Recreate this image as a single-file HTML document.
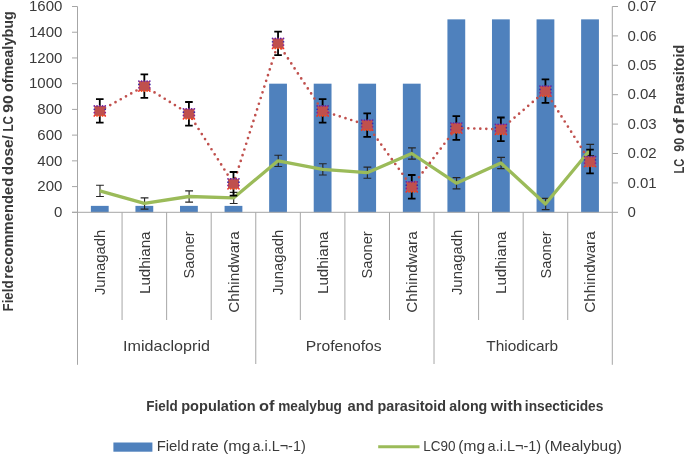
<!DOCTYPE html><html><head><meta charset="utf-8"><style>html,body{margin:0;padding:0;background:#fff;width:685px;height:455px;overflow:hidden}svg{display:block;will-change:transform}text{font-family:"Liberation Sans", sans-serif;fill:#3a3a3a}</style></head><body>
<svg width="685" height="455" viewBox="0 0 685 455">
<rect x="90.88" y="205.87" width="17.8" height="6.43" fill="#4f81bd"/>
<rect x="135.45" y="205.87" width="17.8" height="6.43" fill="#4f81bd"/>
<rect x="180.02" y="205.87" width="17.8" height="6.43" fill="#4f81bd"/>
<rect x="224.58" y="205.87" width="17.8" height="6.43" fill="#4f81bd"/>
<rect x="269.15" y="83.68" width="17.8" height="128.62" fill="#4f81bd"/>
<rect x="313.72" y="83.68" width="17.8" height="128.62" fill="#4f81bd"/>
<rect x="358.28" y="83.68" width="17.8" height="128.62" fill="#4f81bd"/>
<rect x="402.85" y="83.68" width="17.8" height="128.62" fill="#4f81bd"/>
<rect x="447.42" y="19.36" width="17.8" height="192.94" fill="#4f81bd"/>
<rect x="491.98" y="19.36" width="17.8" height="192.94" fill="#4f81bd"/>
<rect x="536.55" y="19.36" width="17.8" height="192.94" fill="#4f81bd"/>
<rect x="581.12" y="19.36" width="17.8" height="192.94" fill="#4f81bd"/>
<g stroke="#a6a6a6" stroke-width="1" fill="none">
<path d="M77.5 6.5 V364.8"/>
<path d="M612.3 6.5 V364.8"/>
<path d="M72 6.50 H77.5"/>
<path d="M72 32.23 H77.5"/>
<path d="M72 57.95 H77.5"/>
<path d="M72 83.68 H77.5"/>
<path d="M72 109.40 H77.5"/>
<path d="M72 135.12 H77.5"/>
<path d="M72 160.85 H77.5"/>
<path d="M72 186.58 H77.5"/>
<path d="M72 212.30 H77.5"/>
<path d="M612.3 6.50 H618"/>
<path d="M612.3 35.90 H618"/>
<path d="M612.3 65.30 H618"/>
<path d="M612.3 94.70 H618"/>
<path d="M612.3 124.10 H618"/>
<path d="M612.3 153.50 H618"/>
<path d="M612.3 182.90 H618"/>
<path d="M612.3 212.30 H618"/>
<path d="M72 212.30 H612.3"/>
<path d="M122.07 212.30 V320"/>
<path d="M166.63 212.30 V320"/>
<path d="M211.20 212.30 V320"/>
<path d="M255.77 212.30 V364"/>
<path d="M300.33 212.30 V320"/>
<path d="M344.90 212.30 V320"/>
<path d="M389.47 212.30 V320"/>
<path d="M434.03 212.30 V364"/>
<path d="M478.60 212.30 V320"/>
<path d="M523.17 212.30 V320"/>
<path d="M567.73 212.30 V320"/>
</g>
<g stroke="#262626" stroke-width="1.15" fill="none">
<path d="M99.98 185.25 V196.45 M96.08 185.25 H103.88 M96.08 196.45 H103.88"/>
<path d="M144.55 197.85 V209.05 M140.65 197.85 H148.45 M140.65 209.05 H148.45"/>
<path d="M189.12 190.90 V202.10 M185.22 190.90 H193.02 M185.22 202.10 H193.02"/>
<path d="M233.68 192.30 V203.50 M229.78 192.30 H237.58 M229.78 203.50 H237.58"/>
<path d="M278.25 155.25 V166.45 M274.35 155.25 H282.15 M274.35 166.45 H282.15"/>
<path d="M322.82 163.75 V174.95 M318.92 163.75 H326.72 M318.92 174.95 H326.72"/>
<path d="M367.38 167.05 V178.25 M363.48 167.05 H371.28 M363.48 178.25 H371.28"/>
<path d="M411.95 147.90 V159.10 M408.05 147.90 H415.85 M408.05 159.10 H415.85"/>
<path d="M456.52 177.60 V188.80 M452.62 177.60 H460.42 M452.62 188.80 H460.42"/>
<path d="M501.08 157.40 V168.60 M497.18 157.40 H504.98 M497.18 168.60 H504.98"/>
<path d="M545.65 198.35 V209.55 M541.75 198.35 H549.55 M541.75 209.55 H549.55"/>
<path d="M590.22 144.40 V155.60 M586.32 144.40 H594.12 M586.32 155.60 H594.12"/>
</g>
<polyline fill="none" stroke="#9bbb59" stroke-width="3.3" stroke-linejoin="round" points="99.78,190.85 144.35,203.45 188.92,196.50 233.48,197.90 278.05,160.85 322.62,169.35 367.18,172.65 411.75,153.50 456.32,183.20 500.88,163.00 545.45,203.95 590.02,150.00"/>
<g fill="none" stroke="#c0504d" stroke-width="2.7" stroke-linecap="round" stroke-dasharray="0 6">
<path d="M99.78 110.90 L144.35 86.10"/>
<path d="M144.35 86.10 L188.92 113.80"/>
<path d="M188.92 113.80 L233.48 183.80"/>
<path d="M233.48 183.80 L278.05 43.40"/>
<path d="M278.05 43.40 L322.62 110.90"/>
<path d="M322.62 110.90 L367.18 125.10"/>
<path d="M367.18 125.10 L411.75 186.80"/>
<path d="M411.75 186.80 L456.32 128.00"/>
<path d="M456.32 128.00 L500.88 129.30"/>
<path d="M500.88 129.30 L545.45 91.10"/>
<path d="M545.45 91.10 L590.02 161.50"/>
</g>
<g stroke="#000" stroke-width="1.8" fill="none">
<path d="M99.78 99.10 V122.70 M95.98 99.10 H103.58 M95.98 122.70 H103.58"/>
<path d="M144.35 74.30 V97.90 M140.55 74.30 H148.15 M140.55 97.90 H148.15"/>
<path d="M188.92 102.00 V125.60 M185.12 102.00 H192.72 M185.12 125.60 H192.72"/>
<path d="M233.48 172.00 V195.60 M229.68 172.00 H237.28 M229.68 195.60 H237.28"/>
<path d="M278.05 31.60 V55.20 M274.25 31.60 H281.85 M274.25 55.20 H281.85"/>
<path d="M322.62 99.10 V122.70 M318.82 99.10 H326.42 M318.82 122.70 H326.42"/>
<path d="M367.18 113.30 V136.90 M363.38 113.30 H370.98 M363.38 136.90 H370.98"/>
<path d="M411.75 175.00 V198.60 M407.95 175.00 H415.55 M407.95 198.60 H415.55"/>
<path d="M456.32 116.20 V139.80 M452.52 116.20 H460.12 M452.52 139.80 H460.12"/>
<path d="M500.88 117.50 V141.10 M497.08 117.50 H504.68 M497.08 141.10 H504.68"/>
<path d="M545.45 79.30 V102.90 M541.65 79.30 H549.25 M541.65 102.90 H549.25"/>
<path d="M590.02 149.70 V173.30 M586.22 149.70 H593.82 M586.22 173.30 H593.82"/>
</g>
<defs><linearGradient id="mg" x1="0" y1="0" x2="0" y2="1"><stop offset="0" stop-color="#6a22a0"/><stop offset="0.4" stop-color="#3828b0"/><stop offset="0.7" stop-color="#8a2090"/><stop offset="0.9" stop-color="#ff2018"/><stop offset="1" stop-color="#ff5a20"/></linearGradient></defs>
<rect x="94.28" y="105.90" width="11" height="10" fill="#c0504d"/>
<circle cx="94.28" cy="105.90" r="0.85" fill="#6b1fa5"/>
<circle cx="94.28" cy="115.90" r="0.85" fill="#ff2a1a"/>
<circle cx="97.03" cy="105.90" r="0.85" fill="#6b1fa5"/>
<circle cx="97.03" cy="115.90" r="0.85" fill="#ff4a12"/>
<circle cx="99.78" cy="105.90" r="0.85" fill="#6b1fa5"/>
<circle cx="99.78" cy="115.90" r="0.85" fill="#ff4a12"/>
<circle cx="102.53" cy="105.90" r="0.85" fill="#6b1fa5"/>
<circle cx="102.53" cy="115.90" r="0.85" fill="#ff4a12"/>
<circle cx="105.28" cy="105.90" r="0.85" fill="#6b1fa5"/>
<circle cx="105.28" cy="115.90" r="0.85" fill="#ff2a1a"/>
<circle cx="94.28" cy="109.23" r="0.85" fill="#3b2aa8"/>
<circle cx="94.28" cy="112.57" r="0.85" fill="#8a2090"/>
<circle cx="105.28" cy="109.23" r="0.85" fill="#3b2aa8"/>
<circle cx="105.28" cy="112.57" r="0.85" fill="#8a2090"/>
<rect x="138.85" y="81.10" width="11" height="10" fill="#c0504d"/>
<circle cx="138.85" cy="81.10" r="0.85" fill="#6b1fa5"/>
<circle cx="138.85" cy="91.10" r="0.85" fill="#ff2a1a"/>
<circle cx="141.60" cy="81.10" r="0.85" fill="#6b1fa5"/>
<circle cx="141.60" cy="91.10" r="0.85" fill="#ff4a12"/>
<circle cx="144.35" cy="81.10" r="0.85" fill="#6b1fa5"/>
<circle cx="144.35" cy="91.10" r="0.85" fill="#ff4a12"/>
<circle cx="147.10" cy="81.10" r="0.85" fill="#6b1fa5"/>
<circle cx="147.10" cy="91.10" r="0.85" fill="#ff4a12"/>
<circle cx="149.85" cy="81.10" r="0.85" fill="#6b1fa5"/>
<circle cx="149.85" cy="91.10" r="0.85" fill="#ff2a1a"/>
<circle cx="138.85" cy="84.43" r="0.85" fill="#3b2aa8"/>
<circle cx="138.85" cy="87.77" r="0.85" fill="#8a2090"/>
<circle cx="149.85" cy="84.43" r="0.85" fill="#3b2aa8"/>
<circle cx="149.85" cy="87.77" r="0.85" fill="#8a2090"/>
<rect x="183.42" y="108.80" width="11" height="10" fill="#c0504d"/>
<circle cx="183.42" cy="108.80" r="0.85" fill="#6b1fa5"/>
<circle cx="183.42" cy="118.80" r="0.85" fill="#ff2a1a"/>
<circle cx="186.17" cy="108.80" r="0.85" fill="#6b1fa5"/>
<circle cx="186.17" cy="118.80" r="0.85" fill="#ff4a12"/>
<circle cx="188.92" cy="108.80" r="0.85" fill="#6b1fa5"/>
<circle cx="188.92" cy="118.80" r="0.85" fill="#ff4a12"/>
<circle cx="191.67" cy="108.80" r="0.85" fill="#6b1fa5"/>
<circle cx="191.67" cy="118.80" r="0.85" fill="#ff4a12"/>
<circle cx="194.42" cy="108.80" r="0.85" fill="#6b1fa5"/>
<circle cx="194.42" cy="118.80" r="0.85" fill="#ff2a1a"/>
<circle cx="183.42" cy="112.13" r="0.85" fill="#3b2aa8"/>
<circle cx="183.42" cy="115.47" r="0.85" fill="#8a2090"/>
<circle cx="194.42" cy="112.13" r="0.85" fill="#3b2aa8"/>
<circle cx="194.42" cy="115.47" r="0.85" fill="#8a2090"/>
<rect x="227.98" y="178.80" width="11" height="10" fill="#c0504d"/>
<circle cx="227.98" cy="178.80" r="0.85" fill="#6b1fa5"/>
<circle cx="227.98" cy="188.80" r="0.85" fill="#ff2a1a"/>
<circle cx="230.73" cy="178.80" r="0.85" fill="#6b1fa5"/>
<circle cx="230.73" cy="188.80" r="0.85" fill="#ff4a12"/>
<circle cx="233.48" cy="178.80" r="0.85" fill="#6b1fa5"/>
<circle cx="233.48" cy="188.80" r="0.85" fill="#ff4a12"/>
<circle cx="236.23" cy="178.80" r="0.85" fill="#6b1fa5"/>
<circle cx="236.23" cy="188.80" r="0.85" fill="#ff4a12"/>
<circle cx="238.98" cy="178.80" r="0.85" fill="#6b1fa5"/>
<circle cx="238.98" cy="188.80" r="0.85" fill="#ff2a1a"/>
<circle cx="227.98" cy="182.13" r="0.85" fill="#3b2aa8"/>
<circle cx="227.98" cy="185.47" r="0.85" fill="#8a2090"/>
<circle cx="238.98" cy="182.13" r="0.85" fill="#3b2aa8"/>
<circle cx="238.98" cy="185.47" r="0.85" fill="#8a2090"/>
<rect x="272.55" y="38.40" width="11" height="10" fill="#c0504d"/>
<circle cx="272.55" cy="38.40" r="0.85" fill="#6b1fa5"/>
<circle cx="272.55" cy="48.40" r="0.85" fill="#ff2a1a"/>
<circle cx="275.30" cy="38.40" r="0.85" fill="#6b1fa5"/>
<circle cx="275.30" cy="48.40" r="0.85" fill="#ff4a12"/>
<circle cx="278.05" cy="38.40" r="0.85" fill="#6b1fa5"/>
<circle cx="278.05" cy="48.40" r="0.85" fill="#ff4a12"/>
<circle cx="280.80" cy="38.40" r="0.85" fill="#6b1fa5"/>
<circle cx="280.80" cy="48.40" r="0.85" fill="#ff4a12"/>
<circle cx="283.55" cy="38.40" r="0.85" fill="#6b1fa5"/>
<circle cx="283.55" cy="48.40" r="0.85" fill="#ff2a1a"/>
<circle cx="272.55" cy="41.73" r="0.85" fill="#3b2aa8"/>
<circle cx="272.55" cy="45.07" r="0.85" fill="#8a2090"/>
<circle cx="283.55" cy="41.73" r="0.85" fill="#3b2aa8"/>
<circle cx="283.55" cy="45.07" r="0.85" fill="#8a2090"/>
<rect x="317.12" y="105.90" width="11" height="10" fill="#c0504d"/>
<circle cx="317.12" cy="105.90" r="0.85" fill="#6b1fa5"/>
<circle cx="317.12" cy="115.90" r="0.85" fill="#ff2a1a"/>
<circle cx="319.87" cy="105.90" r="0.85" fill="#6b1fa5"/>
<circle cx="319.87" cy="115.90" r="0.85" fill="#ff4a12"/>
<circle cx="322.62" cy="105.90" r="0.85" fill="#6b1fa5"/>
<circle cx="322.62" cy="115.90" r="0.85" fill="#ff4a12"/>
<circle cx="325.37" cy="105.90" r="0.85" fill="#6b1fa5"/>
<circle cx="325.37" cy="115.90" r="0.85" fill="#ff4a12"/>
<circle cx="328.12" cy="105.90" r="0.85" fill="#6b1fa5"/>
<circle cx="328.12" cy="115.90" r="0.85" fill="#ff2a1a"/>
<circle cx="317.12" cy="109.23" r="0.85" fill="#3b2aa8"/>
<circle cx="317.12" cy="112.57" r="0.85" fill="#8a2090"/>
<circle cx="328.12" cy="109.23" r="0.85" fill="#3b2aa8"/>
<circle cx="328.12" cy="112.57" r="0.85" fill="#8a2090"/>
<rect x="361.68" y="120.10" width="11" height="10" fill="#c0504d"/>
<circle cx="361.68" cy="120.10" r="0.85" fill="#6b1fa5"/>
<circle cx="361.68" cy="130.10" r="0.85" fill="#ff2a1a"/>
<circle cx="364.43" cy="120.10" r="0.85" fill="#6b1fa5"/>
<circle cx="364.43" cy="130.10" r="0.85" fill="#ff4a12"/>
<circle cx="367.18" cy="120.10" r="0.85" fill="#6b1fa5"/>
<circle cx="367.18" cy="130.10" r="0.85" fill="#ff4a12"/>
<circle cx="369.93" cy="120.10" r="0.85" fill="#6b1fa5"/>
<circle cx="369.93" cy="130.10" r="0.85" fill="#ff4a12"/>
<circle cx="372.68" cy="120.10" r="0.85" fill="#6b1fa5"/>
<circle cx="372.68" cy="130.10" r="0.85" fill="#ff2a1a"/>
<circle cx="361.68" cy="123.43" r="0.85" fill="#3b2aa8"/>
<circle cx="361.68" cy="126.77" r="0.85" fill="#8a2090"/>
<circle cx="372.68" cy="123.43" r="0.85" fill="#3b2aa8"/>
<circle cx="372.68" cy="126.77" r="0.85" fill="#8a2090"/>
<rect x="406.25" y="181.80" width="11" height="10" fill="#c0504d"/>
<circle cx="406.25" cy="181.80" r="0.85" fill="#6b1fa5"/>
<circle cx="406.25" cy="191.80" r="0.85" fill="#ff2a1a"/>
<circle cx="409.00" cy="181.80" r="0.85" fill="#6b1fa5"/>
<circle cx="409.00" cy="191.80" r="0.85" fill="#ff4a12"/>
<circle cx="411.75" cy="181.80" r="0.85" fill="#6b1fa5"/>
<circle cx="411.75" cy="191.80" r="0.85" fill="#ff4a12"/>
<circle cx="414.50" cy="181.80" r="0.85" fill="#6b1fa5"/>
<circle cx="414.50" cy="191.80" r="0.85" fill="#ff4a12"/>
<circle cx="417.25" cy="181.80" r="0.85" fill="#6b1fa5"/>
<circle cx="417.25" cy="191.80" r="0.85" fill="#ff2a1a"/>
<circle cx="406.25" cy="185.13" r="0.85" fill="#3b2aa8"/>
<circle cx="406.25" cy="188.47" r="0.85" fill="#8a2090"/>
<circle cx="417.25" cy="185.13" r="0.85" fill="#3b2aa8"/>
<circle cx="417.25" cy="188.47" r="0.85" fill="#8a2090"/>
<rect x="450.82" y="123.00" width="11" height="10" fill="#c0504d"/>
<circle cx="450.82" cy="123.00" r="0.85" fill="#6b1fa5"/>
<circle cx="450.82" cy="133.00" r="0.85" fill="#ff2a1a"/>
<circle cx="453.57" cy="123.00" r="0.85" fill="#6b1fa5"/>
<circle cx="453.57" cy="133.00" r="0.85" fill="#ff4a12"/>
<circle cx="456.32" cy="123.00" r="0.85" fill="#6b1fa5"/>
<circle cx="456.32" cy="133.00" r="0.85" fill="#ff4a12"/>
<circle cx="459.07" cy="123.00" r="0.85" fill="#6b1fa5"/>
<circle cx="459.07" cy="133.00" r="0.85" fill="#ff4a12"/>
<circle cx="461.82" cy="123.00" r="0.85" fill="#6b1fa5"/>
<circle cx="461.82" cy="133.00" r="0.85" fill="#ff2a1a"/>
<circle cx="450.82" cy="126.33" r="0.85" fill="#3b2aa8"/>
<circle cx="450.82" cy="129.67" r="0.85" fill="#8a2090"/>
<circle cx="461.82" cy="126.33" r="0.85" fill="#3b2aa8"/>
<circle cx="461.82" cy="129.67" r="0.85" fill="#8a2090"/>
<rect x="495.38" y="124.30" width="11" height="10" fill="#c0504d"/>
<circle cx="495.38" cy="124.30" r="0.85" fill="#6b1fa5"/>
<circle cx="495.38" cy="134.30" r="0.85" fill="#ff2a1a"/>
<circle cx="498.13" cy="124.30" r="0.85" fill="#6b1fa5"/>
<circle cx="498.13" cy="134.30" r="0.85" fill="#ff4a12"/>
<circle cx="500.88" cy="124.30" r="0.85" fill="#6b1fa5"/>
<circle cx="500.88" cy="134.30" r="0.85" fill="#ff4a12"/>
<circle cx="503.63" cy="124.30" r="0.85" fill="#6b1fa5"/>
<circle cx="503.63" cy="134.30" r="0.85" fill="#ff4a12"/>
<circle cx="506.38" cy="124.30" r="0.85" fill="#6b1fa5"/>
<circle cx="506.38" cy="134.30" r="0.85" fill="#ff2a1a"/>
<circle cx="495.38" cy="127.63" r="0.85" fill="#3b2aa8"/>
<circle cx="495.38" cy="130.97" r="0.85" fill="#8a2090"/>
<circle cx="506.38" cy="127.63" r="0.85" fill="#3b2aa8"/>
<circle cx="506.38" cy="130.97" r="0.85" fill="#8a2090"/>
<rect x="539.95" y="86.10" width="11" height="10" fill="#c0504d"/>
<circle cx="539.95" cy="86.10" r="0.85" fill="#6b1fa5"/>
<circle cx="539.95" cy="96.10" r="0.85" fill="#ff2a1a"/>
<circle cx="542.70" cy="86.10" r="0.85" fill="#6b1fa5"/>
<circle cx="542.70" cy="96.10" r="0.85" fill="#ff4a12"/>
<circle cx="545.45" cy="86.10" r="0.85" fill="#6b1fa5"/>
<circle cx="545.45" cy="96.10" r="0.85" fill="#ff4a12"/>
<circle cx="548.20" cy="86.10" r="0.85" fill="#6b1fa5"/>
<circle cx="548.20" cy="96.10" r="0.85" fill="#ff4a12"/>
<circle cx="550.95" cy="86.10" r="0.85" fill="#6b1fa5"/>
<circle cx="550.95" cy="96.10" r="0.85" fill="#ff2a1a"/>
<circle cx="539.95" cy="89.43" r="0.85" fill="#3b2aa8"/>
<circle cx="539.95" cy="92.77" r="0.85" fill="#8a2090"/>
<circle cx="550.95" cy="89.43" r="0.85" fill="#3b2aa8"/>
<circle cx="550.95" cy="92.77" r="0.85" fill="#8a2090"/>
<rect x="584.52" y="156.50" width="11" height="10" fill="#c0504d"/>
<circle cx="584.52" cy="156.50" r="0.85" fill="#6b1fa5"/>
<circle cx="584.52" cy="166.50" r="0.85" fill="#ff2a1a"/>
<circle cx="587.27" cy="156.50" r="0.85" fill="#6b1fa5"/>
<circle cx="587.27" cy="166.50" r="0.85" fill="#ff4a12"/>
<circle cx="590.02" cy="156.50" r="0.85" fill="#6b1fa5"/>
<circle cx="590.02" cy="166.50" r="0.85" fill="#ff4a12"/>
<circle cx="592.77" cy="156.50" r="0.85" fill="#6b1fa5"/>
<circle cx="592.77" cy="166.50" r="0.85" fill="#ff4a12"/>
<circle cx="595.52" cy="156.50" r="0.85" fill="#6b1fa5"/>
<circle cx="595.52" cy="166.50" r="0.85" fill="#ff2a1a"/>
<circle cx="584.52" cy="159.83" r="0.85" fill="#3b2aa8"/>
<circle cx="584.52" cy="163.17" r="0.85" fill="#8a2090"/>
<circle cx="595.52" cy="159.83" r="0.85" fill="#3b2aa8"/>
<circle cx="595.52" cy="163.17" r="0.85" fill="#8a2090"/>
<text x="62.4" y="11.30" font-size="15" text-anchor="end">1600</text>
<text x="62.4" y="37.02" font-size="15" text-anchor="end">1400</text>
<text x="62.4" y="62.75" font-size="15" text-anchor="end">1200</text>
<text x="62.4" y="88.48" font-size="15" text-anchor="end">1000</text>
<text x="62.4" y="114.20" font-size="15" text-anchor="end">800</text>
<text x="62.4" y="139.93" font-size="15" text-anchor="end">600</text>
<text x="62.4" y="165.65" font-size="15" text-anchor="end">400</text>
<text x="62.4" y="191.38" font-size="15" text-anchor="end">200</text>
<text x="62.4" y="217.10" font-size="15" text-anchor="end">0</text>
<text x="627.5" y="11.10" font-size="15">0.07</text>
<text x="627.5" y="40.50" font-size="15">0.06</text>
<text x="627.5" y="69.90" font-size="15">0.05</text>
<text x="627.5" y="99.30" font-size="15">0.04</text>
<text x="627.5" y="128.70" font-size="15">0.03</text>
<text x="627.5" y="158.10" font-size="15">0.02</text>
<text x="627.5" y="187.50" font-size="15">0.01</text>
<text x="627.5" y="216.90" font-size="15">0</text>
<text transform="translate(105.08,294.80) rotate(-90)" x="-0.25" y="0" font-size="15" textLength="65.24" lengthAdjust="spacingAndGlyphs">Junagadh</text>
<text transform="translate(149.65,292.80) rotate(-90)" x="-1.27" y="0" font-size="15" textLength="62.65" lengthAdjust="spacingAndGlyphs">Ludhiana</text>
<text transform="translate(194.22,277.80) rotate(-90)" x="-0.73" y="0" font-size="15" textLength="47.25" lengthAdjust="spacingAndGlyphs">Saoner</text>
<text transform="translate(238.78,311.90) rotate(-90)" x="-0.76" y="0" font-size="15" textLength="81.31" lengthAdjust="spacingAndGlyphs">Chhindwara</text>
<text transform="translate(283.35,294.80) rotate(-90)" x="-0.25" y="0" font-size="15" textLength="65.24" lengthAdjust="spacingAndGlyphs">Junagadh</text>
<text transform="translate(327.92,292.80) rotate(-90)" x="-1.27" y="0" font-size="15" textLength="62.65" lengthAdjust="spacingAndGlyphs">Ludhiana</text>
<text transform="translate(372.48,277.80) rotate(-90)" x="-0.73" y="0" font-size="15" textLength="47.25" lengthAdjust="spacingAndGlyphs">Saoner</text>
<text transform="translate(417.05,311.90) rotate(-90)" x="-0.76" y="0" font-size="15" textLength="81.31" lengthAdjust="spacingAndGlyphs">Chhindwara</text>
<text transform="translate(461.62,294.80) rotate(-90)" x="-0.25" y="0" font-size="15" textLength="65.24" lengthAdjust="spacingAndGlyphs">Junagadh</text>
<text transform="translate(506.18,292.80) rotate(-90)" x="-1.27" y="0" font-size="15" textLength="62.65" lengthAdjust="spacingAndGlyphs">Ludhiana</text>
<text transform="translate(550.75,277.80) rotate(-90)" x="-0.73" y="0" font-size="15" textLength="47.25" lengthAdjust="spacingAndGlyphs">Saoner</text>
<text transform="translate(595.32,311.90) rotate(-90)" x="-0.76" y="0" font-size="15" textLength="81.31" lengthAdjust="spacingAndGlyphs">Chhindwara</text>
<text x="123.06" y="351.40" font-size="15" textLength="86.88" lengthAdjust="spacingAndGlyphs">Imidacloprid</text>
<text x="305.69" y="351.40" font-size="15" textLength="75.98" lengthAdjust="spacingAndGlyphs">Profenofos</text>
<text x="486.34" y="351.40" font-size="15" textLength="71.82" lengthAdjust="spacingAndGlyphs">Thiodicarb</text>
<text transform="translate(13.20,310.70) rotate(-90)" x="-0.71" y="0" font-size="14" font-weight="bold" fill="#111" textLength="30.88" lengthAdjust="spacingAndGlyphs">Field</text>
<text transform="translate(13.20,277.90) rotate(-90)" x="-0.79" y="0" font-size="14" font-weight="bold" fill="#111" textLength="100.90" lengthAdjust="spacingAndGlyphs">recommended</text>
<text transform="translate(13.20,174.60) rotate(-90)" x="-0.55" y="0" font-size="14" font-weight="bold" fill="#111" textLength="40.03" lengthAdjust="spacingAndGlyphs">dose/</text>
<text transform="translate(13.20,130.80) rotate(-90)" x="-0.62" y="0" font-size="14" font-weight="bold" fill="#111" textLength="15.36" lengthAdjust="spacingAndGlyphs">LC</text>
<text transform="translate(13.20,112.20) rotate(-90)" x="-0.57" y="0" font-size="14" font-weight="bold" fill="#111" textLength="17.62" lengthAdjust="spacingAndGlyphs">90</text>
<text transform="translate(13.20,91.60) rotate(-90)" x="-0.52" y="0" font-size="14" font-weight="bold" fill="#111" textLength="80.97" lengthAdjust="spacingAndGlyphs">ofmealybug</text>
<text transform="translate(683.70,172.90) rotate(-90)" x="-0.59" y="0" font-size="14" font-weight="bold" fill="#111" textLength="14.72" lengthAdjust="spacingAndGlyphs">LC</text>
<text transform="translate(683.70,151.40) rotate(-90)" x="-0.46" y="0" font-size="14" font-weight="bold" fill="#111" textLength="14.18" lengthAdjust="spacingAndGlyphs">90</text>
<text transform="translate(683.70,133.40) rotate(-90)" x="-0.60" y="0" font-size="14" font-weight="bold" fill="#111" textLength="15.97" lengthAdjust="spacingAndGlyphs">of</text>
<text transform="translate(683.70,113.60) rotate(-90)" x="-0.77" y="0" font-size="14" font-weight="bold" fill="#111" textLength="69.55" lengthAdjust="spacingAndGlyphs">Parasitoid</text>
<text x="146.28" y="411.10" font-size="14" font-weight="bold" fill="#111" textLength="31.41" lengthAdjust="spacingAndGlyphs">Field</text>
<text x="181.22" y="411.10" font-size="14" font-weight="bold" fill="#111" textLength="74.41" lengthAdjust="spacingAndGlyphs">population</text>
<text x="259.02" y="411.10" font-size="14" font-weight="bold" fill="#111" textLength="15.45" lengthAdjust="spacingAndGlyphs">of</text>
<text x="278.17" y="411.10" font-size="14" font-weight="bold" fill="#111" textLength="63.77" lengthAdjust="spacingAndGlyphs">mealybug</text>
<text x="347.64" y="411.10" font-size="14" font-weight="bold" fill="#111" textLength="26.20" lengthAdjust="spacingAndGlyphs">and</text>
<text x="377.43" y="411.10" font-size="14" font-weight="bold" fill="#111" textLength="68.60" lengthAdjust="spacingAndGlyphs">parasitoid</text>
<text x="449.35" y="411.10" font-size="14" font-weight="bold" fill="#111" textLength="37.91" lengthAdjust="spacingAndGlyphs">along</text>
<text x="490.80" y="411.10" font-size="14" font-weight="bold" fill="#111" textLength="31.54" lengthAdjust="spacingAndGlyphs">with</text>
<text x="524.82" y="411.10" font-size="14" font-weight="bold" fill="#111" textLength="78.58" lengthAdjust="spacingAndGlyphs">insecticides</text>
<text x="156.66" y="451.30" font-size="15" textLength="32.25" lengthAdjust="spacingAndGlyphs">Field</text>
<text x="191.55" y="451.30" font-size="15" textLength="27.19" lengthAdjust="spacingAndGlyphs">rate</text>
<text x="222.90" y="451.30" font-size="15" textLength="27.60" lengthAdjust="spacingAndGlyphs">(mg</text>
<text x="252.42" y="451.30" font-size="15" textLength="53.30" lengthAdjust="spacingAndGlyphs">a.i.L¬-1)</text>
<text x="423.27" y="451.30" font-size="15" textLength="32.27" lengthAdjust="spacingAndGlyphs">LC90</text>
<text x="458.32" y="451.30" font-size="15" textLength="26.75" lengthAdjust="spacingAndGlyphs">(mg</text>
<text x="487.62" y="451.30" font-size="15" textLength="53.50" lengthAdjust="spacingAndGlyphs">a.i.L¬-1)</text>
<text x="544.53" y="451.30" font-size="15" textLength="77.48" lengthAdjust="spacingAndGlyphs">(Mealybug)</text>
<rect x="113.4" y="442.5" width="39" height="9.2" fill="#4f81bd"/>
<path d="M378.2 446.8 H419.5" stroke="#9bbb59" stroke-width="3"/>
</svg></body></html>
